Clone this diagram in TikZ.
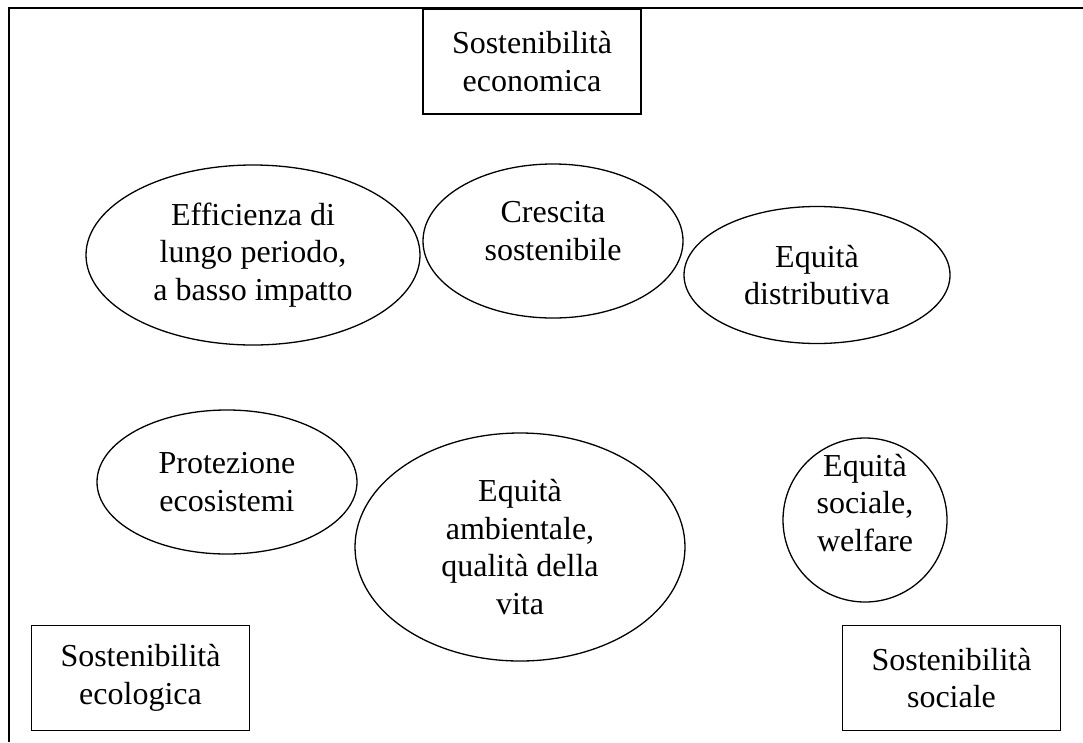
\documentclass[tikz,border=0pt]{standalone}
\usepackage{fontspec}
\setmainfont{Liberation Serif}
\usetikzlibrary{shapes.geometric}

\begin{document}
\begin{tikzpicture}[x=1pt,y=-1pt,
        every node/.style={align=center,inner sep=0pt,
          font=\fontsize{32}{37.5}\selectfont},
        box/.style={draw,line width=1.3pt,minimum width=218pt,minimum height=105pt},
        bubble/.style={draw,line width=1.3pt,shape=ellipse}]
        \useasboundingbox (0,0) rectangle (1083,742);
        % outer frame, runs past the right and bottom edges
        \draw[line width=1.3pt] (1083,8) -- (9,8) -- (9,742);
        \node[box] (econ) at (532,61.5) {Sostenibilità\\economica};
        \node[box] (ecol) at (140.5,678) {Sostenibilità\\ecologica};
        \node[box] (socl) at (951.5,678) {Sostenibilità\\sociale};
        \node[bubble,minimum width=334pt,minimum height=180pt] (effic) at (253,255)
          {Efficienza di\\lungo periodo,\\a basso impatto};
        \node[bubble,minimum width=260pt,minimum height=154pt] (cresc) at (553,241)
          {Crescita\\sostenibile\\[-17.5pt]};
        \node[bubble,minimum width=266pt,minimum height=137pt] (distr) at (817,275)
          {Equità\\distributiva};
        \node[bubble,minimum width=260pt,minimum height=144pt] (prot) at (227,482)
          {Protezione\\ecosistemi};
        \node[bubble,minimum width=330pt,minimum height=228pt] (amb) at (520,547)
          {Equità\\ambientale,\\qualità della\\vita};
        % text sits high in this one
        \node[bubble,minimum size=164pt,
          label={[yshift=17pt]center:{Equità\\sociale,\\welfare}}] (welf) at (865,520) {};
\end{tikzpicture}
\end{document}
